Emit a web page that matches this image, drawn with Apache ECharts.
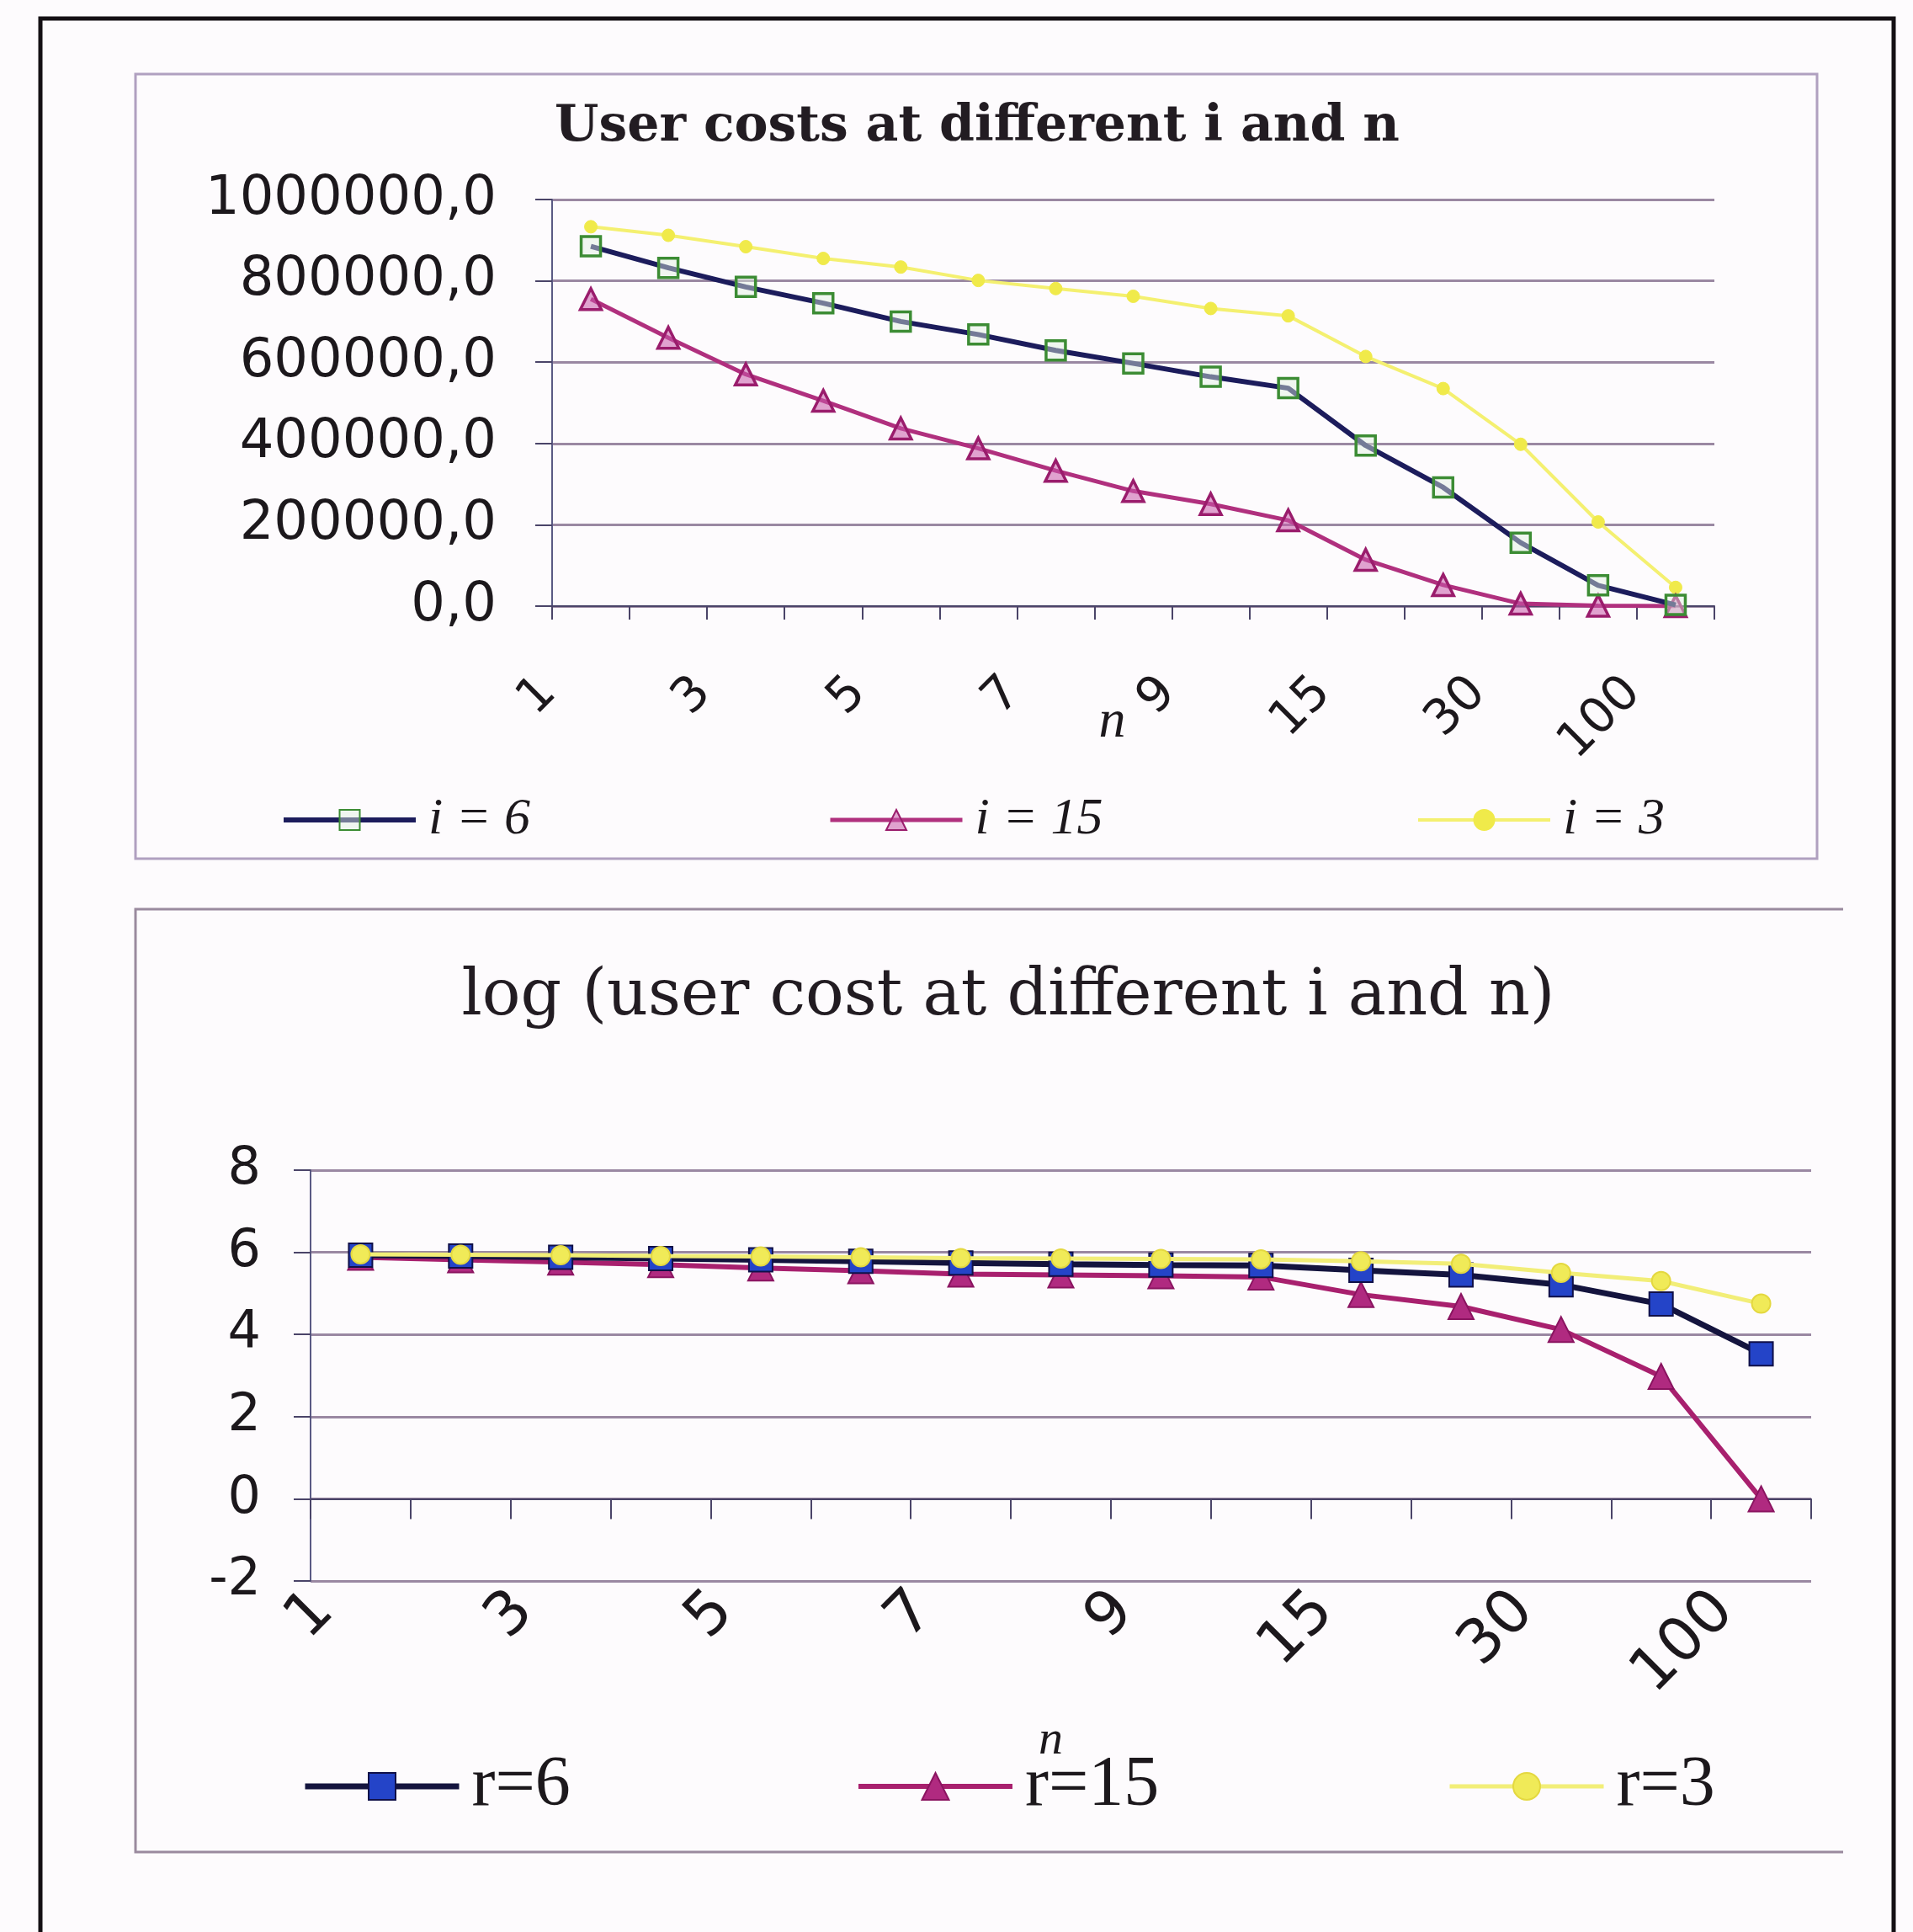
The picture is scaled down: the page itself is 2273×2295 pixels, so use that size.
<!DOCTYPE html>
<html>
<head>
<meta charset="utf-8">
<script src="https://cdn.jsdelivr.net/npm/echarts@6/dist/echarts.min.js"></script>
<style>
html,body{margin:0;padding:0;background:#fdfbfd;}
#c{width:2273px;height:2295px;}
</style>
</head>
<body>
<div id="c"></div>
<script>
// ---- data ----
const categories = ['1','2','3','4','5','6','7','8','9','10','15','20','30','50','100'];

// top chart: user costs
const costI6  = [885000, 832000, 785000, 745000, 700000, 668000, 629000, 597000, 564000, 536000, 395000, 292000, 156000, 51000, 3000];
const costI15 = [755000, 660000, 570000, 505000, 437000, 388000, 333000, 283000, 251000, 211000, 114000, 52000, 6000, 1000, 1];
const costI3  = [933000, 912000, 884000, 855000, 834000, 801000, 781000, 762000, 732000, 714000, 614000, 535000, 398000, 207000, 46000];

// bottom chart: log of user cost
const logR6  = [5.93, 5.91, 5.88, 5.85, 5.82, 5.78, 5.74, 5.71, 5.69, 5.68, 5.56, 5.45, 5.21, 4.74, 3.53];
const logR15 = [5.88, 5.82, 5.76, 5.70, 5.62, 5.55, 5.47, 5.45, 5.43, 5.40, 4.97, 4.68, 4.12, 2.98, 0.0];
const logR3  = [5.95, 5.94, 5.93, 5.91, 5.90, 5.88, 5.86, 5.85, 5.84, 5.83, 5.78, 5.72, 5.50, 5.30, 4.75];

const topTitle = 'User costs at different i and n';
const bottomTitle = 'log (user cost at different i and n)';
const topNames = ['i = 6', 'i = 15', 'i = 3'];
const bottomNames = ['r=6', 'r=15', 'r=3'];

// ---- styles ----
const gridColor = '#9a88a2';
const axisColor = '#4a4468';
const textColor = '#1c181c';

const chart = echarts.init(document.getElementById('c'), null, {renderer: 'canvas'});

function topLegend(name, left, lw) {
  return {data: [name], left: left, top: 943, padding: 0, itemWidth: 157, itemHeight: 30, selectedMode: false,
    lineStyle: {width: lw},
    textStyle: {fontFamily: 'Liberation Serif', fontStyle: 'italic', fontSize: 62, color: textColor, padding: [0, 0, 0, 10]}};
}
function bottomLegend(name, left, lw) {
  return {data: [name], left: left, top: 2080, padding: 0, itemWidth: 183, itemHeight: 40, selectedMode: false,
    lineStyle: {width: lw},
    textStyle: {fontFamily: 'Liberation Serif', fontSize: 84, color: textColor, padding: [0, 0, 0, 10]}};
}

const option = {
  animation: false,
  backgroundColor: '#fdfbfd',
  title: [
    {
      text: topTitle, left: 1156, top: 146, textAlign: 'center', textVerticalAlign: 'middle',
      textStyle: {fontFamily: 'DejaVu Serif', fontWeight: 'bold', fontSize: 60, color: '#221c22'}
    },
    {
      text: bottomTitle, left: 1193, top: 1180, textAlign: 'center', textVerticalAlign: 'middle',
      textStyle: {fontFamily: 'DejaVu Serif', fontWeight: 'normal', fontSize: 76, color: '#221c22'}
    }
  ],
  legend: [
    topLegend(topNames[0], 334, 6),
    topLegend(topNames[1], 984, 5),
    topLegend(topNames[2], 1683, 4),
    bottomLegend(bottomNames[0], 359, 7),
    bottomLegend(bottomNames[1], 1017, 6),
    bottomLegend(bottomNames[2], 1720, 5)
  ],
  grid: [
    {left: 656, top: 237, width: 1381, height: 483, outerBoundsMode: 'none', containLabel: false},
    {left: 369, top: 1390, width: 1783, height: 488, outerBoundsMode: 'none', containLabel: false}
  ],
  xAxis: [
    {
      type: 'category', gridIndex: 0, data: categories, boundaryGap: true,
      axisLine: {show: true, lineStyle: {color: axisColor, width: 2}},
      axisTick: {show: true, interval: 0, length: 16, lineStyle: {color: axisColor, width: 2}},
      axisLabel: {interval: 1, rotate: 45, fontFamily: 'DejaVu Sans', fontSize: 58, color: textColor,
                  margin: 44, padding: [0, 71, 0, 0]},
      splitLine: {show: false},
      name: 'n', nameLocation: 'middle', nameGap: 106, nameMoveOverlap: false,
      nameTextStyle: {fontFamily: 'Liberation Serif', fontStyle: 'italic', fontSize: 64, color: textColor, padding: [0, 50, 0, 0]}
    },
    {
      type: 'category', gridIndex: 1, data: categories, boundaryGap: true,
      axisLine: {show: true, onZero: true, lineStyle: {color: axisColor, width: 2}},
      axisTick: {show: true, interval: 0, length: 24, lineStyle: {color: axisColor, width: 2}},
      axisLabel: {interval: 1, rotate: 45, fontFamily: 'DejaVu Sans', fontSize: 72, color: textColor,
                  margin: -18, padding: [0, 61, 0, 0]},
      splitLine: {show: false},
      name: 'n', nameLocation: 'middle', nameGap: 161, nameMoveOverlap: false,
      nameTextStyle: {fontFamily: 'Liberation Serif', fontStyle: 'italic', fontSize: 58, color: textColor, padding: [0, 24, 0, 0]}
    }
  ],
  yAxis: [
    {
      type: 'value', gridIndex: 0, min: 0, max: 1000000, interval: 200000,
      axisLine: {show: true, lineStyle: {color: '#5a5a84', width: 2}},
      axisTick: {show: true, length: 20, lineStyle: {color: axisColor, width: 2}},
      axisLabel: {fontFamily: 'DejaVu Sans', fontSize: 64, color: textColor, margin: 66,
                  formatter: function (v) { return v.toFixed(1).replace('.', ','); }},
      splitLine: {show: true, lineStyle: {color: gridColor, width: 3}}
    },
    {
      type: 'value', gridIndex: 1, min: -2, max: 8, interval: 2,
      axisLine: {show: true, lineStyle: {color: '#5a5a84', width: 2}},
      axisTick: {show: true, length: 20, lineStyle: {color: axisColor, width: 2}},
      axisLabel: {fontFamily: 'DejaVu Sans', fontSize: 62, color: textColor, margin: 59},
      splitLine: {show: true, lineStyle: {color: gridColor, width: 3}}
    }
  ],
  graphic: [
    {type: 'rect', z: -10, silent: true, shape: {x: 48, y: 22, width: 2202, height: 2400},
     style: {fill: 'none', stroke: '#141014', lineWidth: 5}},
    {type: 'rect', z: -10, silent: true, shape: {x: 161, y: 88, width: 1998, height: 932},
     style: {fill: 'none', stroke: '#b0a0c0', lineWidth: 3}},
    {type: 'polyline', z: -10, silent: true, shape: {points: [[2190, 1080], [161, 1080], [161, 2200], [2190, 2200]]},
     style: {fill: 'none', stroke: '#9a8a9e', lineWidth: 3}}
  ],
  series: [
    {
      name: topNames[0], type: 'line', xAxisIndex: 0, yAxisIndex: 0, data: costI6,
      symbol: 'rect', symbolSize: 23, z: 3,
      lineStyle: {color: '#1c1c5c', width: 6},
      itemStyle: {color: 'rgba(225,240,225,0.45)', borderColor: '#3c8c34', borderWidth: 3.5}
    },
    {
      name: topNames[1], type: 'line', xAxisIndex: 0, yAxisIndex: 0, data: costI15,
      symbol: 'triangle', symbolSize: 25, z: 2,
      lineStyle: {color: '#b0307e', width: 5},
      itemStyle: {color: 'rgba(200,90,170,0.55)', borderColor: '#9a1c6c', borderWidth: 3.5}
    },
    {
      name: topNames[2], type: 'line', xAxisIndex: 0, yAxisIndex: 0, data: costI3,
      symbol: 'circle', symbolSize: 15, z: 1,
      lineStyle: {color: '#f4f070', width: 4},
      itemStyle: {color: '#f0ea4a', borderColor: '#f0ea4a', borderWidth: 1}
    },
    {
      name: bottomNames[0], type: 'line', xAxisIndex: 1, yAxisIndex: 1, data: logR6,
      symbol: 'rect', symbolSize: 28, z: 3,
      lineStyle: {color: '#14143e', width: 7},
      itemStyle: {color: '#2444c8', borderColor: '#101048', borderWidth: 2}
    },
    {
      name: bottomNames[1], type: 'line', xAxisIndex: 1, yAxisIndex: 1, data: logR15,
      symbol: 'triangle', symbolSize: 30, z: 2,
      lineStyle: {color: '#a8206e', width: 6},
      itemStyle: {color: '#b02a80', borderColor: '#8a1460', borderWidth: 2}
    },
    {
      name: bottomNames[2], type: 'line', xAxisIndex: 1, yAxisIndex: 1, data: logR3,
      symbol: 'circle', symbolSize: 22, z: 4,
      lineStyle: {color: '#f2ee78', width: 5},
      itemStyle: {color: '#f0ea58', borderColor: '#e4d840', borderWidth: 2}
    }
  ]
};

chart.setOption(option);
</script>
</body>
</html>
